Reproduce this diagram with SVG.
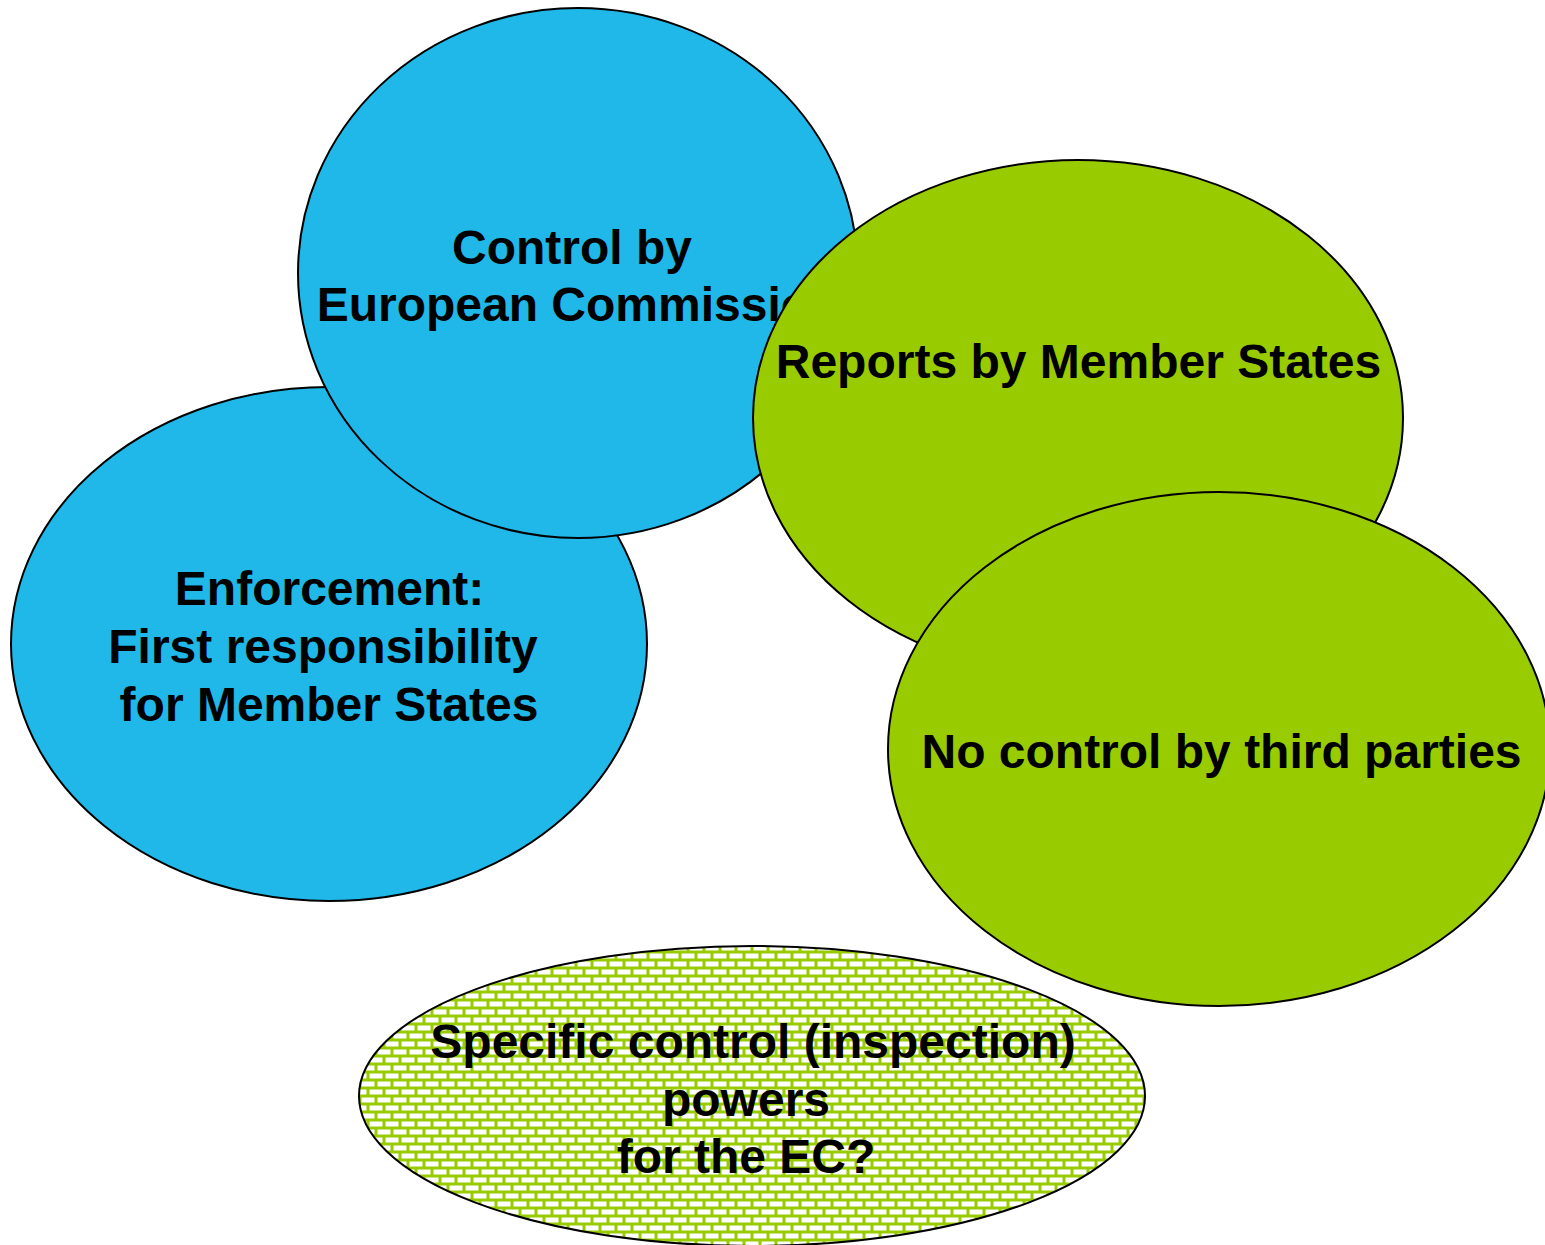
<svg xmlns="http://www.w3.org/2000/svg" width="1545" height="1245" viewBox="0 0 1545 1245">
<style>
.e{stroke:#000;stroke-width:2}
.blue{fill:#1fb8e8}
.green{fill:#99cc00}
.t{font-family:"Liberation Sans",Arial,sans-serif;font-weight:bold;font-size:48px;fill:#000;text-anchor:middle}
</style>
<defs>
<pattern id="brick" width="16" height="16" patternUnits="userSpaceOnUse">
<rect width="16" height="16" fill="#99cc00"/>
<rect x="1.5" y="1.5" width="13" height="5" fill="#fff"/>
<rect x="-6.5" y="9.5" width="13" height="5" fill="#fff"/>
<rect x="9.5" y="9.5" width="13" height="5" fill="#fff"/>
</pattern>
</defs>
<rect width="1545" height="1245" fill="#fff"/>
<g id="enforcement">
<ellipse class="e blue" cx="329" cy="644" rx="318" ry="257"/>
<text class="t" x="329.5" y="605">Enforcement:</text>
<text class="t" x="323" y="663">First responsibility</text>
<text class="t" x="329" y="721">for Member States</text>
</g>
<g id="control-ec">
<ellipse class="e blue" cx="578" cy="273" rx="280" ry="265"/>
<text class="t" x="572" y="264">Control by</text>
<text class="t" x="578" y="321">European Commission</text>
</g>
<g id="reports">
<ellipse class="e green" cx="1078" cy="418" rx="325" ry="258"/>
<text class="t" x="1078.5" y="378">Reports by Member States</text>
</g>
<g id="no-control">
<ellipse class="e green" cx="1219" cy="749" rx="331" ry="257"/>
<text class="t" x="1221.5" y="768">No control by third parties</text>
</g>
<g id="specific">
<ellipse class="e" fill="url(#brick)" cx="752" cy="1096" rx="393" ry="150"/>
<text class="t" x="753" y="1058">Specific control (inspection)</text>
<text class="t" x="746" y="1116">powers</text>
<text class="t" x="746" y="1173">for the EC?</text>
</g>
<g id="connectors"/>
</svg>
